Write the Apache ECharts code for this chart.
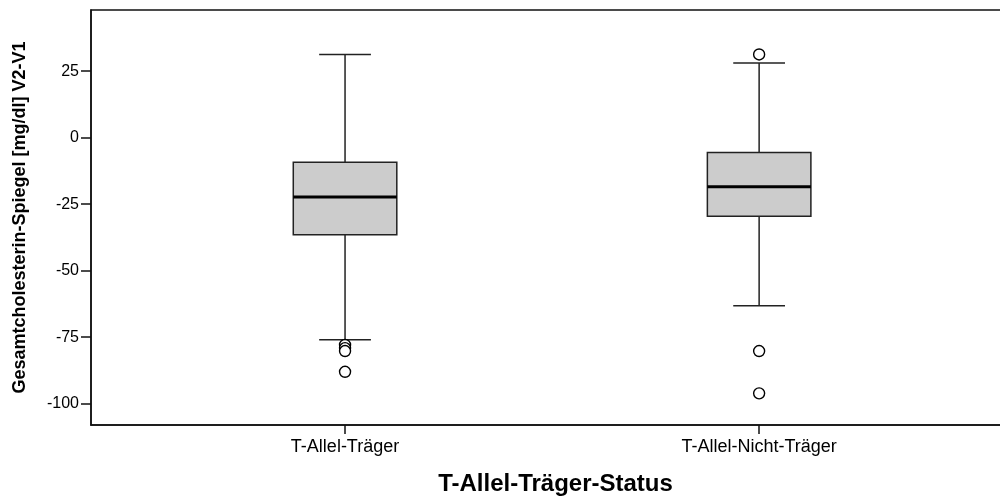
<!DOCTYPE html>
<html>
<head>
<meta charset="utf-8">
<script src="https://cdn.jsdelivr.net/npm/echarts@6/dist/echarts.min.js"></script>
<style>
  html, body { margin: 0; padding: 0; background: #fff; }
  #chart { width: 1000px; height: 500px; }
</style>
</head>
<body>
<div id="chart"></div>
<script>
// values
const categories = ['T-Allel-Träger', 'T-Allel-Nicht-Träger'];
const whiskerLow = [-76, -63.2];
const q1 = [-36.5, -29.5];
const median = [-22.3, -18.4];
const q3 = [-9.2, -5.6];
const whiskerHigh = [31.3, 28.1];
const outlierGroup = [0, 0, 0, 0, 1, 1, 1];
const outlierValue = [-77.9, -79.1, -80.2, -88, 31.3, -80.2, -96.1];
const yTicks = [-100, -75, -50, -25, 0, 25];

const boxRows = categories.map((c, i) => [i, whiskerLow[i], q1[i], median[i], q3[i], whiskerHigh[i]]);
const outlierRows = outlierGroup.map((g, i) => [g, outlierValue[i]]);

const BOX_W = 0.25;
const FONT = 'Arial, "Liberation Sans", sans-serif';

function renderBox(params, api) {
  const i = api.value(0);
  const lo = api.coord([i, api.value(1)]);
  const b1 = api.coord([i, api.value(2)]);
  const md = api.coord([i, api.value(3)]);
  const b3 = api.coord([i, api.value(4)]);
  const hi = api.coord([i, api.value(5)]);
  const w = api.size([BOX_W, 0])[0];
  const x = lo[0];
  const thin = { stroke: '#222', lineWidth: 1.5 };
  return {
    type: 'group',
    children: [
      { type: 'line', shape: { x1: x, y1: hi[1], x2: x, y2: b3[1] }, style: thin },
      { type: 'line', shape: { x1: x, y1: b1[1], x2: x, y2: lo[1] }, style: thin },
      { type: 'line', shape: { x1: x - w / 4, y1: hi[1], x2: x + w / 4, y2: hi[1] }, style: thin },
      { type: 'line', shape: { x1: x - w / 4, y1: lo[1], x2: x + w / 4, y2: lo[1] }, style: thin },
      { type: 'rect', shape: { x: x - w / 2, y: b3[1], width: w, height: b1[1] - b3[1] },
        style: { fill: '#cccccc', stroke: '#222', lineWidth: 1.5 } },
      { type: 'line', shape: { x1: x - w / 2, y1: md[1], x2: x + w / 2, y2: md[1] },
        style: { stroke: '#000', lineWidth: 3 } }
    ]
  };
}

const chart = echarts.init(document.getElementById('chart'));
chart.setOption({
  backgroundColor: '#fff',
  animation: false,
  grid: {
    left: 91, right: -20, top: 10, bottom: 75,
    outerBoundsMode: 'none',
    containLabel: false,
    show: true, borderColor: '#111', borderWidth: 1.5
  },
  xAxis: {
    type: 'value',
    min: -0.6135,
    max: 1.630,
    name: 'T-Allel-Träger-Status',
    nameLocation: 'middle',
    nameGap: 47,
    nameTextStyle: { fontFamily: FONT, fontWeight: 'bold', fontSize: 24, color: '#000' },
    axisLine: { onZero: false, lineStyle: { color: '#111', width: 1.5 } },
    axisTick: { customValues: [0, 1], length: 9, lineStyle: { color: '#111', width: 1.5 } },
    axisLabel: {
      customValues: [0, 1],
      formatter: v => categories[Math.round(v)],
      fontFamily: FONT, fontSize: 18, color: '#000', margin: 13
    },
    splitLine: { show: false }
  },
  yAxis: {
    type: 'value',
    min: -108,
    max: 48,
    name: 'Gesamtcholesterin-Spiegel [mg/dl] V2-V1',
    nameLocation: 'middle',
    nameGap: 62,
    nameTextStyle: { fontFamily: FONT, fontWeight: 'bold', fontSize: 18, color: '#000' },
    axisLine: { show: true, onZero: false, lineStyle: { color: '#111', width: 1.5 } },
    axisTick: { show: true, customValues: yTicks, length: 10, lineStyle: { color: '#111', width: 1.5 } },
    axisLabel: { customValues: yTicks, fontFamily: FONT, fontSize: 16, color: '#000', margin: 12 },
    splitLine: { show: false }
  },
  series: [
    {
      type: 'custom',
      renderItem: renderBox,
      data: boxRows,
      encode: { x: 0, y: [1, 2, 3, 4, 5] },
      clip: true
    },
    {
      type: 'scatter',
      data: outlierRows,
      symbol: 'circle',
      symbolSize: 11,
      itemStyle: { color: '#fff', borderColor: '#000', borderWidth: 1.4, opacity: 1 }
    }
  ]
});
</script>
</body>
</html>
